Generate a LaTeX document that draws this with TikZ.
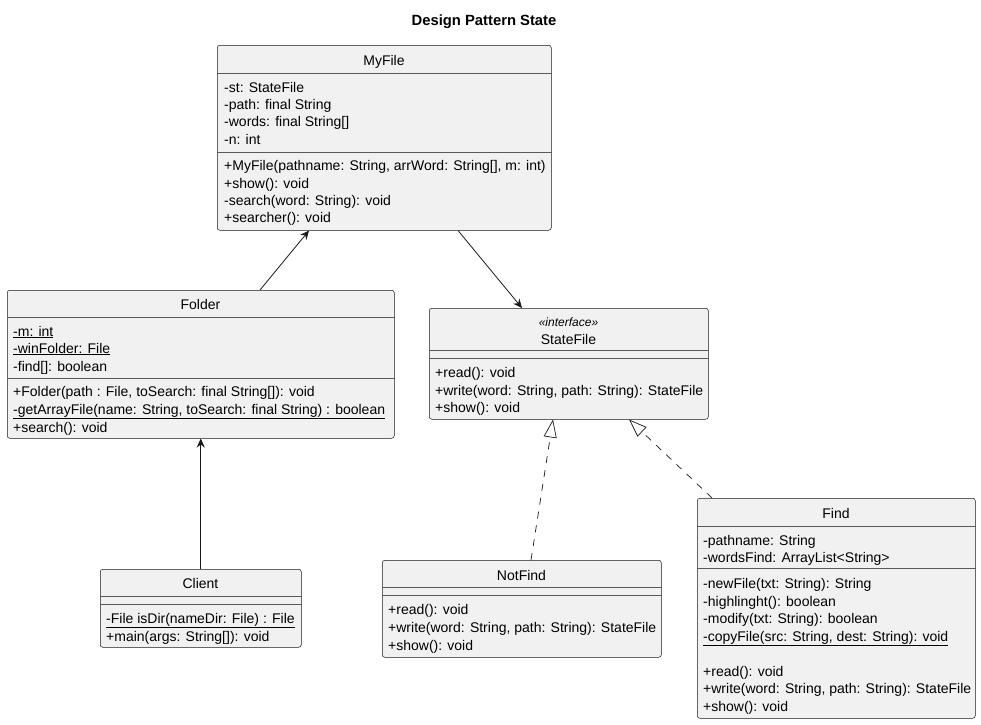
\documentclass[tikz,border=0pt]{standalone}
\usepackage{fontspec}
\setmainfont{Liberation Sans}
\usetikzlibrary{arrows.meta,calc}
\definecolor{boxfill}{HTML}{F1F1F1}
\definecolor{boxline}{HTML}{181818}
\definecolor{sepcol}{HTML}{5A5A5A}
\tikzset{
  cls/.style={draw=boxline, fill=boxfill, rounded corners=2.5pt, line width=0.5pt, inner sep=0pt, anchor=north west},
  sepline/.style={draw=sepcol, line width=0.5pt},
  txt/.style={anchor=west, inner sep=0pt, text height=11pt, text depth=1pt, font=\fontsize{14}{16}\selectfont},
  ctr/.style={anchor=center, inner sep=0pt, text height=11pt, text depth=1pt, font=\fontsize{14}{16}\selectfont},
  assoc/.style={draw=boxline, line width=0.8pt, -{Stealth[length=9pt,width=8pt,inset=3pt]}},
  realize/.style={draw=boxline, line width=0.7pt, dash pattern=on 7pt off 7pt, -{Triangle[open,length=18pt,width=13pt,fill=white]}}
}
\begin{document}
\begin{tikzpicture}[x=1pt,y=-1pt]
\useasboundingbox (0,0) rectangle (981,724);
\node[ctr, font=\fontsize{14.8}{16}\selectfont\bfseries] (title) at (484,20) {Design Pattern State};

% MyFile
\node[cls, minimum width=334pt, minimum height=185pt] (myfile) at (217,45) {};
\node[ctr] (mfn) at (384,60) {MyFile};
\draw[sepline] (myfile.west |- 0,73) -- (myfile.east |- 0,73);
\node[txt] (mfa1) at (224,87) {-st: StateFile};
\node[txt] (mfa2) at (224,104) {-path: final String};
\node[txt] (mfa3) at (224,121) {-words: final String[]};
\node[txt] (mfa4) at (224,139) {-n: int};
\draw[sepline] (myfile.west |- 0,152) -- (myfile.east |- 0,152);
\node[txt] (mfm1) at (224,165) {+MyFile(pathname: String, arrWord: String[], m: int)};
\node[txt] (mfm2) at (224,183) {+show(): void};
\node[txt] (mfm3) at (224,200) {-search(word: String): void};
\node[txt] (mfm4) at (224,217) {+searcher(): void};

% Folder
\node[cls, minimum width=387pt, minimum height=148pt] (folder) at (7,290) {};
\node[ctr] (fon) at (200.5,304) {Folder};
\draw[sepline] (folder.west |- 0,317) -- (folder.east |- 0,317);
\node[txt] (foa1) at (13,331) {\underline{-m: int}};
\node[txt] (foa2) at (13,348) {\underline{-winFolder: File}};
\node[txt] (foa3) at (13,366) {-find[]: boolean};
\draw[sepline] (folder.west |- 0,378) -- (folder.east |- 0,378);
\node[txt] (fom1) at (13,391) {+Folder(path : File, toSearch: final String[]): void};
\node[txt] (fom2) at (13,409) {\underline{-getArrayFile(name: String, toSearch: final String) : boolean}};
\node[txt] (fom3) at (13,427) {+search(): void};

% StateFile
\node[cls, minimum width=279pt, minimum height=111pt] (statefile) at (429,308) {};
\node[ctr, text height=9pt, text depth=1pt, font=\fontsize{12}{14}\selectfont\itshape] (sfs) at (568.5,322) {«interface»};
\node[ctr] (sfn) at (568.5,339) {StateFile};
\draw[sepline] (statefile.west |- 0,350) -- (statefile.east |- 0,350);
\draw[sepline] (statefile.west |- 0,358) -- (statefile.east |- 0,358);
\node[txt] (sfm1) at (435,372) {+read(): void};
\node[txt] (sfm2) at (435,390) {+write(word: String, path: String): StateFile};
\node[txt] (sfm3) at (435,407) {+show(): void};

% Client
\node[cls, minimum width=201pt, minimum height=78pt] (client) at (100,569) {};
\node[ctr] (cln) at (200.5,583) {Client};
\draw[sepline] (client.west |- 0,596) -- (client.east |- 0,596);
\draw[sepline] (client.west |- 0,604) -- (client.east |- 0,604);
\node[txt] (clm1) at (106,618) {\underline{-File isDir(nameDir: File) : File}};
\node[txt] (clm2) at (106,636) {+main(args: String[]): void};

% NotFind
\node[cls, minimum width=279pt, minimum height=97pt] (notfind) at (382,560) {};
\node[ctr] (nfn) at (521.5,575) {NotFind};
\draw[sepline] (notfind.west |- 0,587) -- (notfind.east |- 0,587);
\draw[sepline] (notfind.west |- 0,595) -- (notfind.east |- 0,595);
\node[txt] (nfm1) at (388,609) {+read(): void};
\node[txt] (nfm2) at (388,627) {+write(word: String, path: String): StateFile};
\node[txt] (nfm3) at (388,645) {+show(): void};

% Find
\node[cls, minimum width=278pt, minimum height=220pt] (find) at (697,498) {};
\node[ctr] (fin) at (836,513) {Find};
\draw[sepline] (find.west |- 0,526) -- (find.east |- 0,526);
\node[txt] (fia1) at (703,540) {-pathname: String};
\node[txt] (fia2) at (703,557) {-wordsFind: ArrayList<String>};
\draw[sepline] (find.west |- 0,568) -- (find.east |- 0,568);
\node[txt] (fim1) at (703,583) {-newFile(txt: String): String};
\node[txt] (fim2) at (703,601) {-highlinght(): boolean};
\node[txt] (fim3) at (703,618) {-modify(txt: String): boolean};
\node[txt] (fim4) at (703,636) {\underline{-copyFile(src: String, dest: String): void}};
\node[txt] (fim5) at (703,671) {+read(): void};
\node[txt] (fim6) at (703,688) {+write(word: String, path: String): StateFile};
\node[txt] (fim7) at (703,706) {+show(): void};

% connectors
\draw[assoc] ($(folder.north west)+(253,0)$) -- ($(myfile.south west)+(92,0)$);
\draw[assoc] ($(myfile.south west)+(241,0)$) -- ($(statefile.north west)+(93,0)$);
\draw[assoc] (client.north) -- (folder.south -| client.north);
\draw[realize] ($(notfind.north west)+(149,0)$) -- ($(statefile.south west)+(124,0)$);
\draw[realize] ($(find.north west)+(15,0)$) -- ($(statefile.south west)+(200,0)$);
\end{tikzpicture}
\end{document}
